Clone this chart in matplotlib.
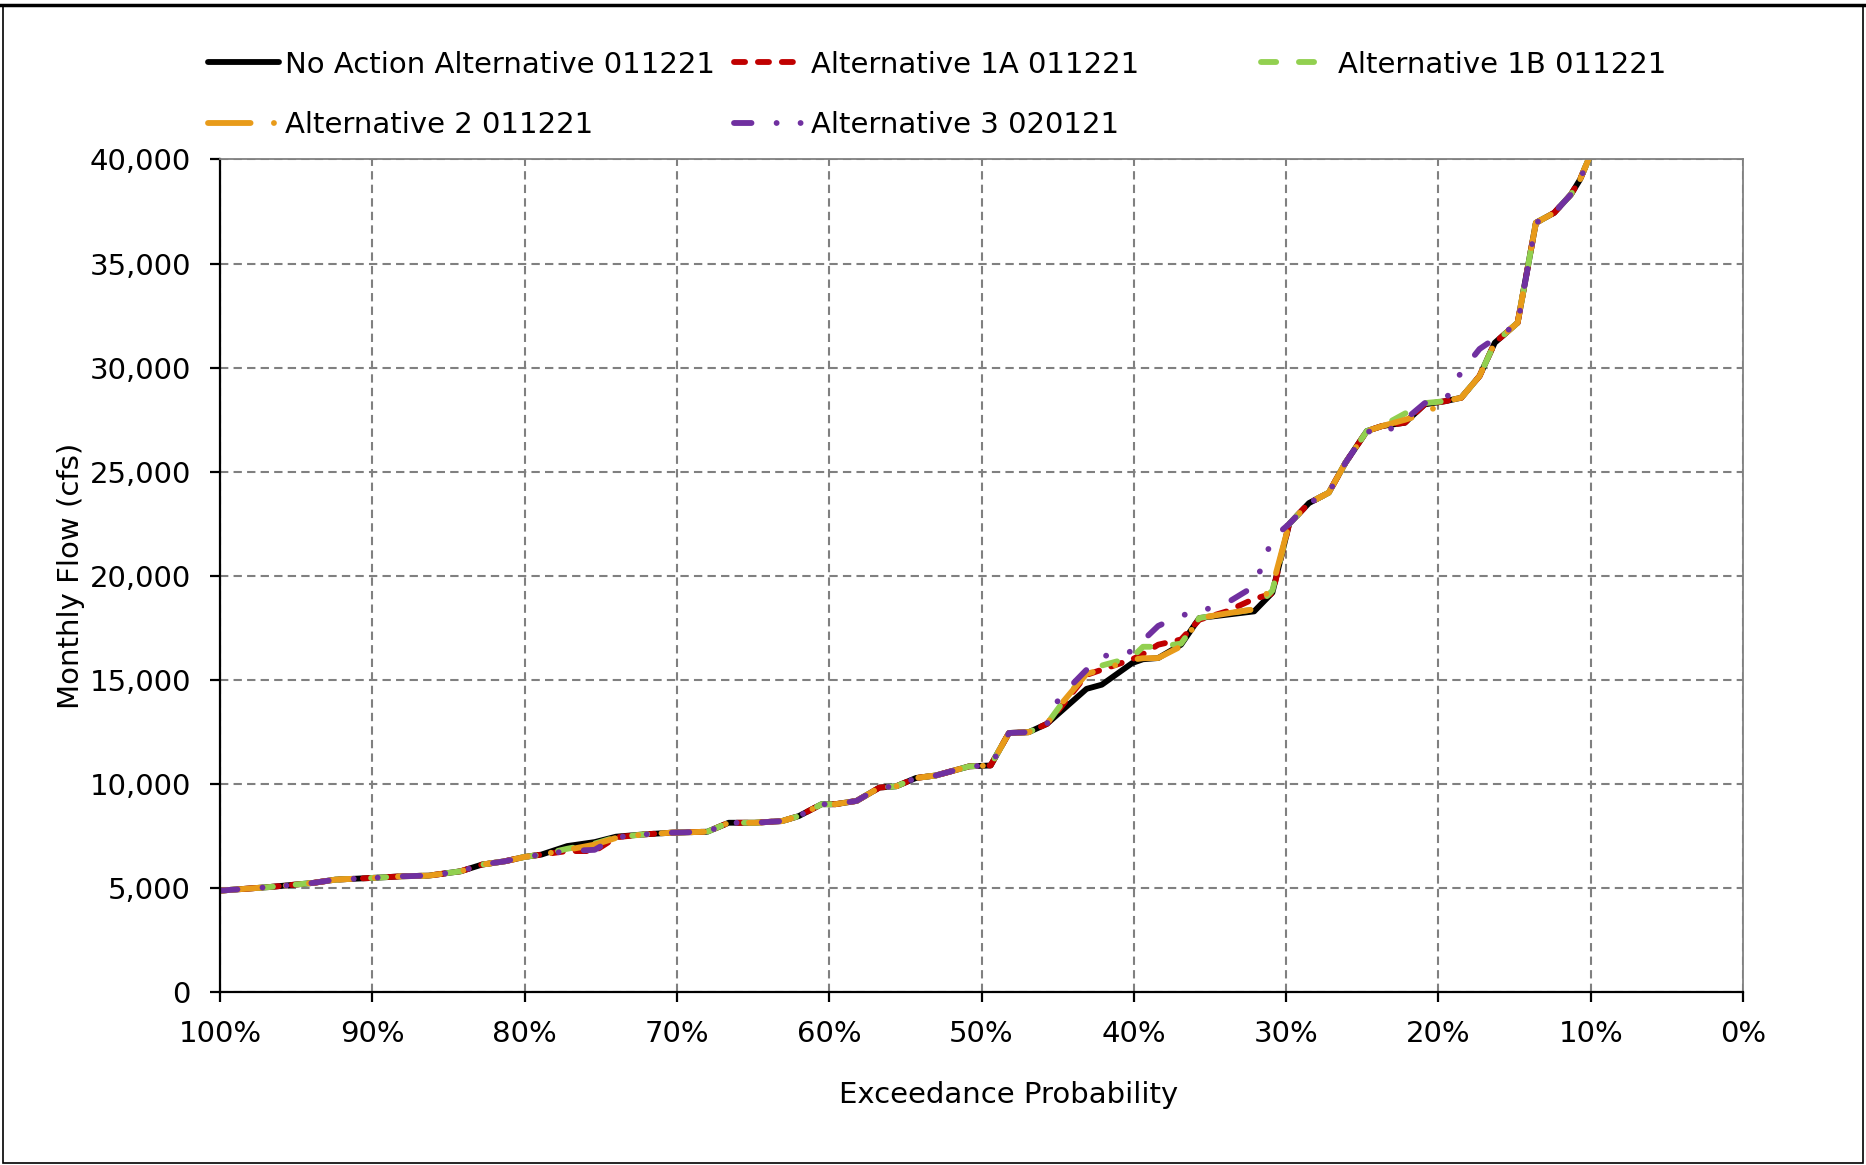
import matplotlib
matplotlib.use("Agg")
import matplotlib.pyplot as plt
from matplotlib.lines import Line2D
from matplotlib.patches import Rectangle
from matplotlib.ticker import FuncFormatter, MultipleLocator

# exceedance probability (%) shared by all series
exceed = [100, 96.8, 93.9, 92.4, 90, 88, 86.3, 84.2, 82.8, 81.3,
          80, 78.9, 77.2, 75.4, 74, 72.2, 70.4, 68, 66.6, 64.9,
          63.1, 62, 60.5, 59.6, 58.2, 56.7, 55.6, 54.3, 53, 50.8,
          49.4, 48.2, 46.9, 45.7, 44.9, 43.1, 42.1, 40.1, 39.4, 38.4,
          36.9, 35.7, 33.9, 32.1, 30.9, 29.8, 28.5, 27.2, 26.1, 24.7,
          23.7, 22.2, 20.9, 19.5, 18.5, 17.3, 16.3, 14.8, 13.6, 12.4,
          11.3, 10.7, 10.1, 9.5]

no_action = [4890, 5060, 5260, 5420, 5500, 5580, 5610, 5820, 6140, 6300,
             6510, 6620, 7030, 7220, 7480, 7590, 7670, 7720, 8150, 8150,
             8230, 8470, 9040, 9040, 9200, 9840, 9900, 10300, 10420, 10860,
             10900, 12460, 12500, 12900, 13420, 14580, 14780, 15820, 16000, 16060,
             16700, 17980, 18140, 18300, 19200, 22500, 23500, 24000, 25440, 26960,
             27200, 27360, 28240, 28400, 28560, 29600, 31200, 32160, 36960, 37440,
             38320, 39040, 40080, 41200]

alt1a = [4890, 5060, 5260, 5420, 5500, 5580, 5610, 5820, 6140, 6300,
         6510, 6620, 6790, 6790, 7450, 7590, 7670, 7720, 8150, 8150,
         8230, 8470, 9040, 9040, 9200, 9840, 9900, 10300, 10420, 10860,
         10900, 12460, 12500, 12900, 13600, 15250, 15500, 16000, 16250, 16700,
         16950, 17900, 18300, 18900, 19150, 22500, 23500, 24000, 25440, 26960,
         27200, 27360, 28240, 28400, 28560, 29600, 31200, 32160, 36960, 37440,
         38320, 39040, 40080, 41200]

alt1b = [4890, 5060, 5260, 5420, 5500, 5580, 5610, 5820, 6140, 6300,
         6510, 6620, 6900, 7150, 7450, 7590, 7670, 7720, 8150, 8150,
         8230, 8470, 9040, 9040, 9200, 9840, 9900, 10300, 10420, 10860,
         10900, 12460, 12500, 12900, 13700, 15400, 15700, 16100, 16600, 16600,
         16750, 17980, 18200, 18400, 19300, 22500, 23500, 24000, 25440, 26960,
         27200, 27800, 28300, 28400, 28560, 29600, 31200, 32160, 36960, 37440,
         38320, 39040, 40080, 41200]

alt2 = [4890, 5060, 5260, 5420, 5500, 5580, 5610, 5820, 6140, 6300,
        6510, 6620, 6850, 7100, 7420, 7590, 7670, 7720, 8150, 8150,
        8230, 8470, 9040, 9040, 9200, 9840, 9900, 10300, 10420, 10860,
        10900, 12460, 12500, 12900, 13740, 15300, 15500, 15980, 16050, 16060,
        16620, 17980, 18200, 18400, 19500, 22500, 23500, 24000, 25440, 26960,
        27200, 27500, 27800, 28400, 28560, 29600, 31200, 32160, 36960, 37440,
        38320, 39040, 40080, 41200]

alt3 = [4890, 5060, 5260, 5420, 5500, 5580, 5610, 5820, 6140, 6300,
        6510, 6620, 6790, 6850, 7450, 7590, 7670, 7720, 8150, 8150,
        8230, 8470, 9040, 9040, 9200, 9840, 9900, 10300, 10420, 10860,
        10900, 12460, 12500, 12900, 14150, 15500, 16140, 16380, 16900, 17600,
        18100, 18300, 18700, 19500, 21800, 22500, 23500, 24000, 25440, 26960,
        26800, 27500, 28300, 28500, 29800, 30900, 31400, 32100, 36960, 37440,
        38320, 39040, 40080, 41200]

labels = ["No Action Alternative 011221", "Alternative 1A 011221",
          "Alternative 1B 011221", "Alternative 2 011221", "Alternative 3 020121"]
colors = ["#000000", "#C00000", "#92D050", "#E89B1A", "#7030A0"]
dashes = [None, (1.9, 2.2), (2.6, 3.9), (7.3, 4.0, 0.01, 4.0),
          (3.0, 4.3, 0.01, 4.1, 0.01, 4.3)]

plt.rcParams['font.family'] = ['DejaVu Sans']
fig = plt.figure(figsize=(18.66, 11.65), dpi=100)
ax = fig.add_axes([0.1179, 0.1481, 0.8162, 0.715])

lw = 4.2
series = [no_action, alt1a, alt1b, alt2, alt3]
handles = []
for y, lab, c, d in zip(series, labels, colors, dashes):
    line, = ax.plot(exceed, y, color=c, lw=lw, label=lab,
                    solid_capstyle='round', dash_capstyle='round')
    if d is not None:
        line.set_dashes(d)
    handles.append(line)

ax.set_xlim(100, 0)
ax.set_ylim(0, 40000)
ax.xaxis.set_major_locator(MultipleLocator(10))
ax.yaxis.set_major_locator(MultipleLocator(5000))
ax.xaxis.set_major_formatter(FuncFormatter(lambda v, p: f"{v:.0f}%"))
ax.yaxis.set_major_formatter(FuncFormatter(lambda v, p: f"{v:,.0f}"))
ax.grid(True, color="#808080", linestyle=(0, (4, 2.5)), lw=1.5)
ax.set_axisbelow(True)
for s in ["left", "bottom"]:
    ax.spines[s].set_linewidth(1.6)
    ax.spines[s].set_color("black")
for s in ["top", "right"]:
    ax.spines[s].set_linewidth(1.3)
    ax.spines[s].set_color("#808080")
ax.tick_params(axis="both", labelsize=21, length=7, width=1.6, direction="out")
ax.tick_params(axis="y", pad=14)
ax.tick_params(axis="x", pad=13)
ax.set_xlabel("Exceedance Probability", fontsize=21)
ax.xaxis.set_label_coords(0.518, -0.106)
ax.set_ylabel("Monthly Flow (cfs)", fontsize=21, labelpad=3)

# legend laid out in three fixed columns
cols = [([0, 3], 0.1115), ([1, 4], 0.3933), ([2], 0.6758)]
for idx, x0 in cols:
    leg = fig.legend([handles[i] for i in idx], [labels[i] for i in idx],
                     loc="upper left", bbox_to_anchor=(x0, 0.9565),
                     frameon=False, fontsize=21, handlelength=2.43,
                     handletextpad=0.2, labelspacing=1.1,
                     borderpad=0, borderaxespad=0)

# outer frame of the exported chart
fig.patches.append(Rectangle((0.0015, 0.002), 0.997, 0.9925, transform=fig.transFigure,
                             fill=False, edgecolor="black", lw=1.2))
fig.add_artist(Line2D([0, 1], [0.9955, 0.9955], transform=fig.transFigure,
                      color="black", lw=2.5))

fig.savefig("out.png", dpi=100)
